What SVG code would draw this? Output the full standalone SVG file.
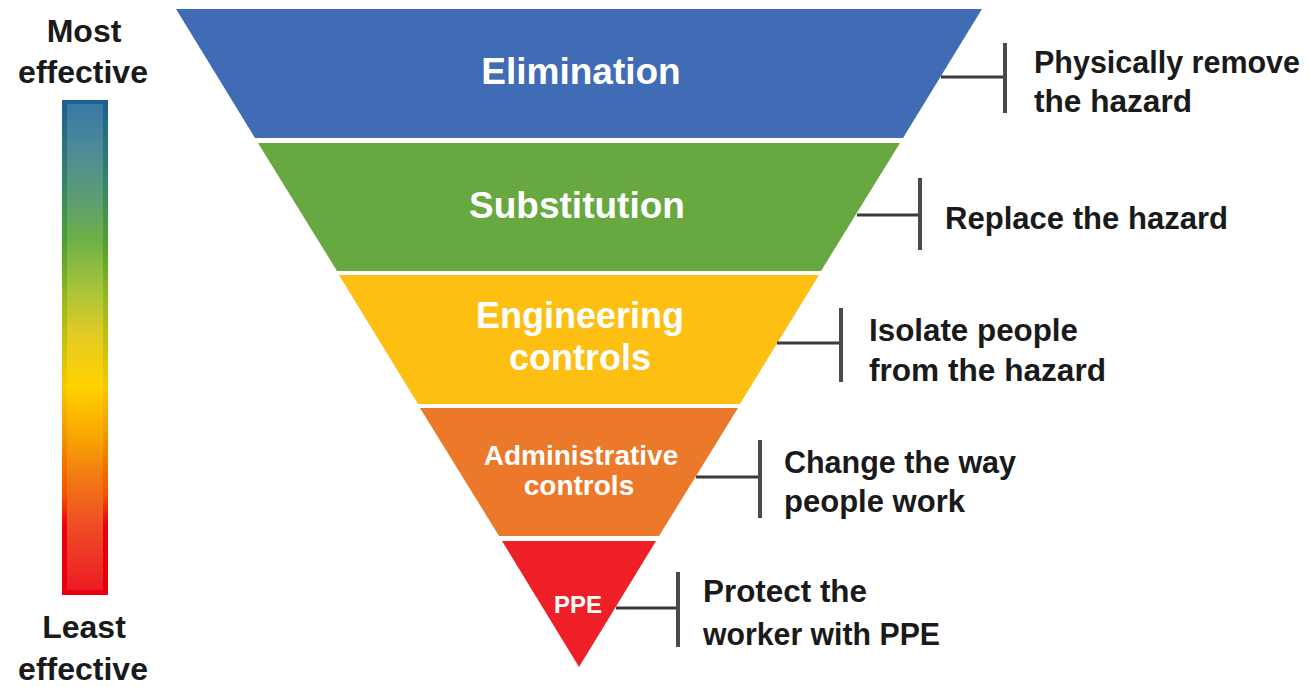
<svg xmlns="http://www.w3.org/2000/svg" width="1310" height="687" viewBox="0 0 1310 687">
<defs>
<linearGradient id="barFill" x1="0" y1="0" x2="0" y2="1">
<stop offset="0" stop-color="#3A78A6"/>
<stop offset="0.1" stop-color="#4E8B98"/>
<stop offset="0.2" stop-color="#5E9F72"/>
<stop offset="0.28" stop-color="#6DB046"/>
<stop offset="0.38" stop-color="#A6C43C"/>
<stop offset="0.48" stop-color="#E6CB22"/>
<stop offset="0.58" stop-color="#FFD200"/>
<stop offset="0.68" stop-color="#F8A800"/>
<stop offset="0.76" stop-color="#F27E12"/>
<stop offset="0.86" stop-color="#EF5024"/>
<stop offset="1" stop-color="#EC1C24"/>
</linearGradient>
<linearGradient id="barEdge" x1="0" y1="0" x2="0" y2="1">
<stop offset="0" stop-color="#1F5E94"/>
<stop offset="0.2" stop-color="#3E8C5C"/>
<stop offset="0.3" stop-color="#55A22C"/>
<stop offset="0.4" stop-color="#96B820"/>
<stop offset="0.58" stop-color="#F8C800"/>
<stop offset="0.7" stop-color="#F08A00"/>
<stop offset="0.8" stop-color="#F45000"/>
<stop offset="0.86" stop-color="#E80010"/>
<stop offset="1" stop-color="#E60010"/>
</linearGradient>
</defs>
<style>
.band-label{font-family:"Liberation Sans",Arial,sans-serif;font-weight:bold;fill:#FFFFFF;text-anchor:middle;}
.note{font-family:"Liberation Sans",Arial,sans-serif;font-weight:bold;fill:#1A1A1A;font-size:31px;}
.scale{font-family:"Liberation Sans",Arial,sans-serif;font-weight:bold;fill:#1A1A1A;font-size:32px;text-anchor:middle;}
.conn{stroke:#3A3A3A;stroke-width:3;fill:none;}
.tick{stroke:#4A4A4A;stroke-width:4;fill:none;}
</style>
<rect x="0" y="0" width="1310" height="687" fill="#FFFFFF"/>

<g id="scale">
<text class="scale" x="84" y="42">Most</text>
<text class="scale" x="83" y="83">effective</text>
<rect x="62" y="100" width="46" height="495" fill="url(#barEdge)"/>
<rect x="67" y="104" width="36" height="486" fill="url(#barFill)"/>
<text class="scale" x="84" y="638">Least</text>
<text class="scale" x="83" y="680">effective</text>
</g>

<g id="elimination">
<polygon points="176,9 982,9 903,138 255,138" fill="#3F6CB4"/>
<text class="band-label" x="581" y="84" font-size="37">Elimination</text>
</g>
<g id="substitution">
<polygon points="258,143 900,143 821,271 337,271" fill="#67A840"/>
<text class="band-label" x="577" y="218" font-size="37">Substitution</text>
</g>
<g id="engineering">
<polygon points="339,275 819,275 740,404 418,404" fill="#FCBF12"/>
<text class="band-label" x="580" y="328" font-size="36">Engineering</text>
<text class="band-label" x="580" y="370" font-size="36">controls</text>
</g>
<g id="administrative">
<polygon points="420,408 738,408 659,536 499,536" fill="#EB7929"/>
<text class="band-label" x="581" y="465" font-size="28">Administrative</text>
<text class="band-label" x="579" y="495" font-size="28">controls</text>
</g>
<g id="ppe">
<polygon points="502,541 656,541 579,667" fill="#EE1F27"/>
<text class="band-label" x="578" y="613" font-size="24">PPE</text>
</g>

<g id="connectors">
<line class="conn" x1="941" y1="77" x2="1005" y2="77"/>
<line class="tick" x1="1005" y1="43" x2="1005" y2="113"/>
<line class="conn" x1="857" y1="215" x2="920" y2="215"/>
<line class="tick" x1="920" y1="178" x2="920" y2="250"/>
<line class="conn" x1="777" y1="343" x2="841" y2="343"/>
<line class="tick" x1="841" y1="308" x2="841" y2="382"/>
<line class="conn" x1="696" y1="477" x2="760" y2="477"/>
<line class="tick" x1="760" y1="440" x2="760" y2="518"/>
<line class="conn" x1="616" y1="608" x2="678" y2="608"/>
<line class="tick" x1="678" y1="572" x2="678" y2="647"/>
</g>

<g id="notes">
<text class="note" x="1034" y="73" textLength="266" lengthAdjust="spacingAndGlyphs">Physically remove</text>
<text class="note" x="1034" y="112" textLength="158" lengthAdjust="spacingAndGlyphs">the hazard</text>
<text class="note" x="945" y="229" textLength="283" lengthAdjust="spacingAndGlyphs">Replace the hazard</text>
<text class="note" x="869" y="341" textLength="209" lengthAdjust="spacingAndGlyphs">Isolate people</text>
<text class="note" x="869" y="381" textLength="237" lengthAdjust="spacingAndGlyphs">from the hazard</text>
<text class="note" x="784" y="473" textLength="232" lengthAdjust="spacingAndGlyphs">Change the way</text>
<text class="note" x="784" y="512" textLength="181" lengthAdjust="spacingAndGlyphs">people work</text>
<text class="note" x="703" y="602" textLength="164" lengthAdjust="spacingAndGlyphs">Protect the</text>
<text class="note" x="703" y="645" textLength="237" lengthAdjust="spacingAndGlyphs">worker with PPE</text>
</g>
</svg>
